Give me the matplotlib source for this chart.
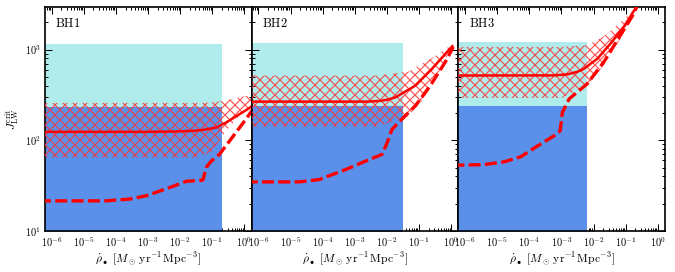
import numpy as np
import matplotlib
matplotlib.use("Agg")
import matplotlib.pyplot as plt
from matplotlib.ticker import LogLocator, FuncFormatter, NullFormatter

plt.rcParams['mathtext.fontset'] = 'cm'
plt.rcParams['font.family'] = ['DejaVu Serif']
plt.rcParams['hatch.linewidth'] = 0.7

# ---------------- data ----------------
panel_names = ["BH1", "BH2", "BH3"]
rho_max = [0.2, 0.032, 0.0061]          # right edge of the shaded boxes
cyan_top = [1146, 1196, 1219]           # light box top
blue_top = [231, 240, 240]              # dark box top

# solid curves: log10(rho), J
solid_logx = [
    [-6.4, -3.0, -2.2, -1.6, -1.3, -0.88, -0.57, -0.15, 0.1, 0.25],
    [-6.4, -2.6, -2.2, -1.95, -1.73, -1.11, -0.59, -0.077, 0.07],
    [-6.4, -3.2, -2.8, -2.5, -2.3, -1.88, -1.47, -1.055, -0.69, -0.5],
]
solid_J = [
    [124, 124, 125, 127, 130, 138, 157, 194, 220, 240],
    [267, 267, 272, 282, 298, 401, 615, 982, 1117],
    [518, 520, 535, 570, 615, 794, 1166, 1786, 2856, 3600],
]

# dashed curves
dash_logx = [
    [-6.4, -4.3, -3.57, -3.05, -2.23, -1.81, -1.34, -1.29, -1.19, -1.03, -0.775, -0.26, 0.05, 0.25],
    [-6.4, -4.73, -4.11, -3.28, -2.66, -2.15, -1.99, -1.84, -1.53, -1.11, -0.645, -0.18, 0.07],
    [-6.4, -5.40, -4.78, -4.26, -3.75, -3.23, -3.04, -2.97, -2.76, -2.20, -1.68, -1.16, -0.74, -0.6],
]
dash_J = [
    [21.5, 21.5, 22.5, 24.5, 31, 35.3, 36.2, 36.5, 50, 59, 70, 122, 171, 215],
    [34.8, 34.8, 36.9, 47.6, 59, 70, 94, 132, 171, 240, 401, 729, 1070],
    [53, 54, 58, 66, 86.5, 112, 127, 203, 286, 419, 729, 1443, 2512, 3300],
]

# hatched uncertainty band
band_logx = [
    [-6.4, -1.5, -1.0, -0.57, -0.1, 0.25],
    [-6.4, -2.3, -1.32, -0.9, -0.49, -0.077, 0.07],
    [-6.4, -3.0, -2.2, -1.68, -1.16, -0.7],
]
band_hi = [
    [258, 258, 262, 275, 300, 320],
    [518, 518, 574, 700, 850, 1072, 1117],
    [1072, 1072, 1117, 1400, 2000, 2856],
]
band_lo = [
    [65, 65, 75, 127, 194, 240],
    [142, 142, 183, 274, 476, 903, 1117],
    [293, 293, 395, 670, 1324, 2856],
]

xlim = (10**-6.21, 10**0.23)
ylim = (10, 2950)

CYAN = "#b1ecec"
BLUE = "#5a8fea"
RED = "#ff0000"

# ---------------- figure ----------------
W, H, DPI = 675, 272, 120
fig = plt.figure(figsize=(W / DPI, H / DPI), dpi=DPI)
left = 45 / W
pw = 206.7 / W
bottom = 1 - 231 / H
ph = (231 - 7) / H

fmt = FuncFormatter(lambda v, p: r"$10^{%d}$" % int(round(np.log10(v))))

for k in range(3):
    ax = fig.add_axes([left + k * pw, bottom, pw, ph])
    ax.set_xscale('log')
    ax.set_yscale('log')
    ax.set_xlim(*xlim)
    ax.set_ylim(*ylim)

    ax.fill_between([1e-8, rho_max[k]], 1, cyan_top[k], color=CYAN, lw=0, zorder=1)
    ax.fill_between([1e-8, rho_max[k]], 1, blue_top[k], color=BLUE, lw=0, zorder=2)

    bx = 10 ** np.array(band_logx[k])
    ax.fill_between(bx, band_lo[k], band_hi[k], facecolor='none',
                    edgecolor=(1, 0.2, 0.2, 0.85), hatch='xxxx', lw=0, zorder=3)

    sx = 10 ** np.array(solid_logx[k])
    ax.plot(sx, solid_J[k], color=RED, lw=1.5, zorder=5, solid_capstyle='butt')
    dx = 10 ** np.array(dash_logx[k])
    ax.plot(dx, dash_J[k], color=RED, lw=2.0, zorder=5, dashes=(3.6, 1.3))

    ax.text(0.05, 0.955, r"$\mathrm{%s}$" % panel_names[k], transform=ax.transAxes,
            ha='left', va='top', fontsize=7.5)

    ax.xaxis.set_major_locator(LogLocator(base=10, numticks=20))
    ax.xaxis.set_minor_locator(LogLocator(base=10, subs=np.arange(2, 10), numticks=20))
    ax.xaxis.set_major_formatter(fmt)
    ax.xaxis.set_minor_formatter(NullFormatter())
    ax.yaxis.set_major_locator(LogLocator(base=10, numticks=10))
    ax.yaxis.set_minor_locator(LogLocator(base=10, subs=np.arange(2, 10), numticks=10))
    ax.yaxis.set_minor_formatter(NullFormatter())
    if k == 0:
        ax.yaxis.set_major_formatter(fmt)
        ax.set_ylabel(r"$J_{\rm LW}^{\rm crit}$", fontsize=7, labelpad=2)
    else:
        ax.yaxis.set_major_formatter(NullFormatter())
    ax.tick_params(which='both', direction='in', top=True, right=True,
                   labelsize=6.2, width=0.6, pad=2.5)
    ax.tick_params(which='major', length=4)
    ax.tick_params(which='minor', length=2)
    for s in ax.spines.values():
        s.set_linewidth(1.0)
    ax.set_xlabel(r"$\dot{\rho}_\bullet\ [M_\odot\,\mathrm{yr}^{-1}\,\mathrm{Mpc}^{-3}]$",
                  fontsize=7, labelpad=1)

fig.savefig("out.png", dpi=DPI)
